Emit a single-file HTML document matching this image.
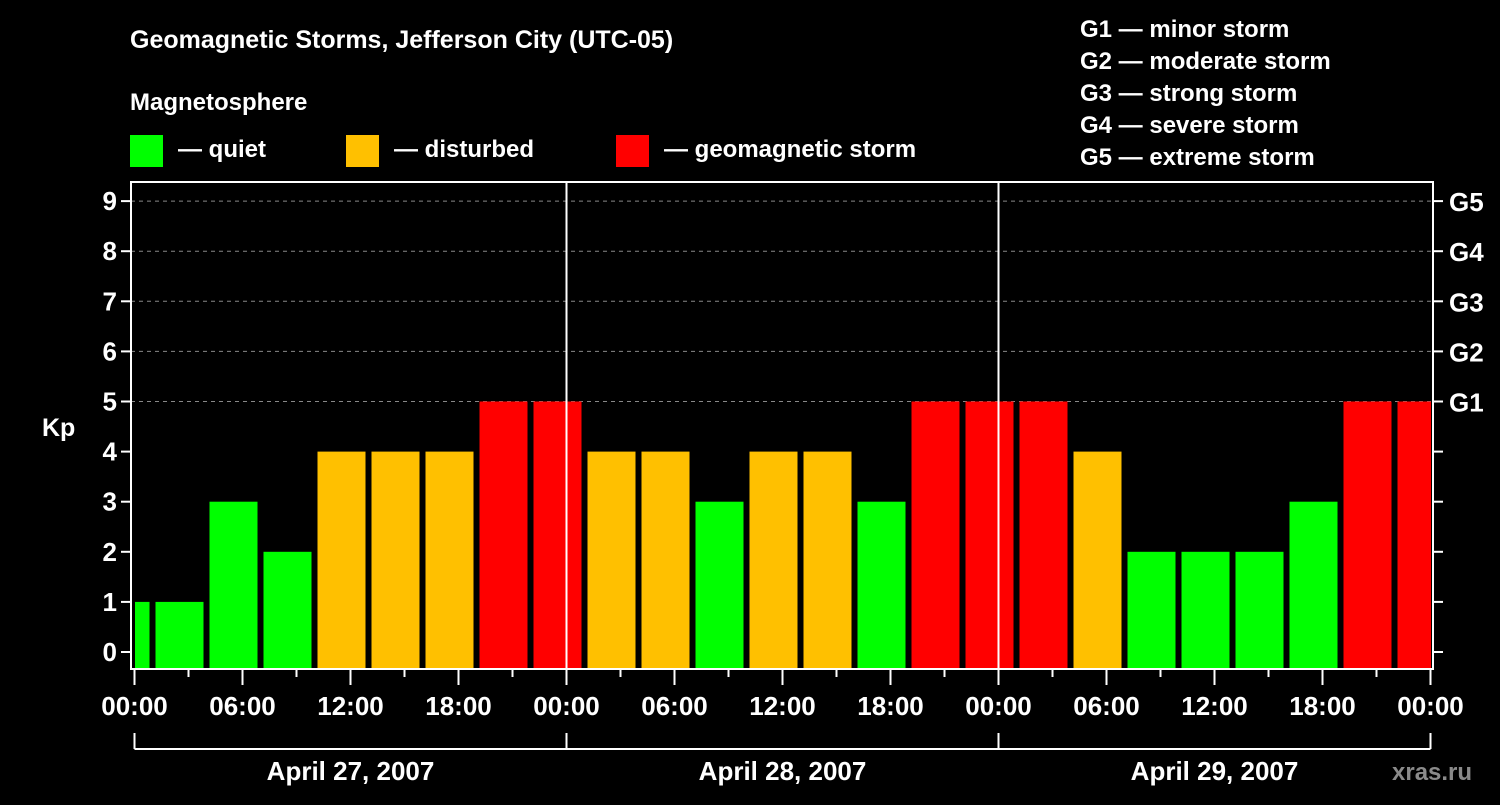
<!DOCTYPE html>
<html><head><meta charset="utf-8"><style>
html,body{margin:0;padding:0;background:#000;}
svg text{font-family:"Liberation Sans",sans-serif;font-weight:bold;fill:#fff;}
</style></head><body>
<svg id="chart" width="1500" height="800" viewBox="0 0 1500 800" xmlns="http://www.w3.org/2000/svg">
<rect width="1500" height="800" fill="#000"/>
<text x="130" y="48" font-size="25">Geomagnetic Storms, Jefferson City (UTC-05)</text>
<text x="130" y="110" font-size="24">Magnetosphere</text>
<g><rect x="130" y="135" width="33" height="32" fill="#00ff00"/><text x="178" y="157" font-size="24">— quiet</text></g>
<g><rect x="346" y="135" width="33" height="32" fill="#ffc000"/><text x="394" y="157" font-size="24">— disturbed</text></g>
<g><rect x="616" y="135" width="33" height="32" fill="#ff0000"/><text x="664" y="157" font-size="24">— geomagnetic storm</text></g>
<g font-size="24">
<text x="1080" y="37">G1 — minor storm</text>
<text x="1080" y="69">G2 — moderate storm</text>
<text x="1080" y="101">G3 — strong storm</text>
<text x="1080" y="133">G4 — severe storm</text>
<text x="1080" y="165">G5 — extreme storm</text>
</g>
<text x="42" y="436" font-size="25">Kp</text>
<text x="1392" y="780" font-size="24" fill="#888" style="fill:#8a8a8a">xras.ru</text>
<g id="plot"></g>
</svg>
<script>
const startHours=[-2,1,4,7,10,13,16,19,22,25,28,31,34,37,40,43,46,49,52,55,58,61,64,67,70];
const kpValues=[1,1,3,2,4,4,4,5,5,4,4,3,4,4,3,5,5,5,4,2,2,2,3,5,5];
const yTicks=[0,1,2,3,4,5,6,7,8,9];
const gLabels=["G1","G2","G3","G4","G5"];
const gLevels=[5,6,7,8,9];
const dayLabels=["April 27, 2007","April 28, 2007","April 29, 2007"];
const xTickLabels=["00:00","06:00","12:00","18:00"];

const NS="http://www.w3.org/2000/svg";
const g=document.getElementById('plot');
const X0=134.5,PXH=18,L=131,R=1433,T=182,B=669;
const xS=h=>X0+h*PXH;
const yS=v=>652-v*50.1;
function mk(tag,attrs){const e=document.createElementNS(NS,tag);for(const k in attrs)e.setAttribute(k,attrs[k]);g.appendChild(e);return e;}

// grid
gLevels.forEach(v=>{
 const e=mk('line',{x1:L,x2:R,y1:yS(v),y2:yS(v),stroke:'#888','stroke-dasharray':'4,4','stroke-width':1});
 
 
});
// bars
startHours.forEach((h,i)=>{
 const v=kpValues[i];
 let x1=xS(h)+3,x2=xS(h+3)-3;
 x1=Math.max(x1,L+4);x2=Math.min(x2,R-2);
 const c=v>=5?'#ff0000':(v>=4?'#ffc000':'#00ff00');
 const e=mk('rect',{x:x1,y:yS(v),width:x2-x1,height:B-yS(v),fill:c});
 
 
});
// day separators
[1,2].forEach(d=>{
 const e=mk('line',{x1:xS(d*24),x2:xS(d*24),y1:T,y2:B,stroke:'#fff','stroke-width':2});
 
 
});
// frame
const fr=mk('rect',{x:L,y:T,width:R-L,height:B-T,fill:'none',stroke:'#fff','stroke-width':2});


// y ticks
yTicks.forEach(v=>{
 mk('line',{x1:L-10,x2:L,y1:yS(v),y2:yS(v),stroke:'#fff','stroke-width':2});
 mk('line',{x1:R,x2:R+10,y1:yS(v),y2:yS(v),stroke:'#fff','stroke-width':2});
 const t=mk('text',{x:L-14,y:yS(v)+9,'text-anchor':'end','font-size':26});
 t.textContent=v;
 
 
});
gLevels.forEach((v,i)=>{
 const t=mk('text',{x:R+16,y:yS(v)+10,'font-size':26});
 t.textContent=gLabels[i];
 
 
});
// x ticks
for(let h=0;h<=72;h+=3){
 const major=h%6===0;
 mk('line',{x1:xS(h),x2:xS(h),y1:B,y2:B+(major?16:8),stroke:'#fff','stroke-width':2});
 if(major){
  const t=mk('text',{x:xS(h),y:B+46,'text-anchor':'middle','font-size':26});
  t.textContent=xTickLabels[(h/6)%4];
  
  
 }
}
// date bracket
mk('line',{x1:xS(0),x2:xS(72),y1:749,y2:749,stroke:'#fff','stroke-width':2});
for(let d=0;d<=3;d++) mk('line',{x1:xS(d*24),x2:xS(d*24),y1:733,y2:749,stroke:'#fff','stroke-width':2});
dayLabels.forEach((s,d)=>{
 const t=mk('text',{x:xS(d*24+12),y:780,'text-anchor':'middle','font-size':26});
 t.textContent=s;
 
 
});
</script>
</body></html>
